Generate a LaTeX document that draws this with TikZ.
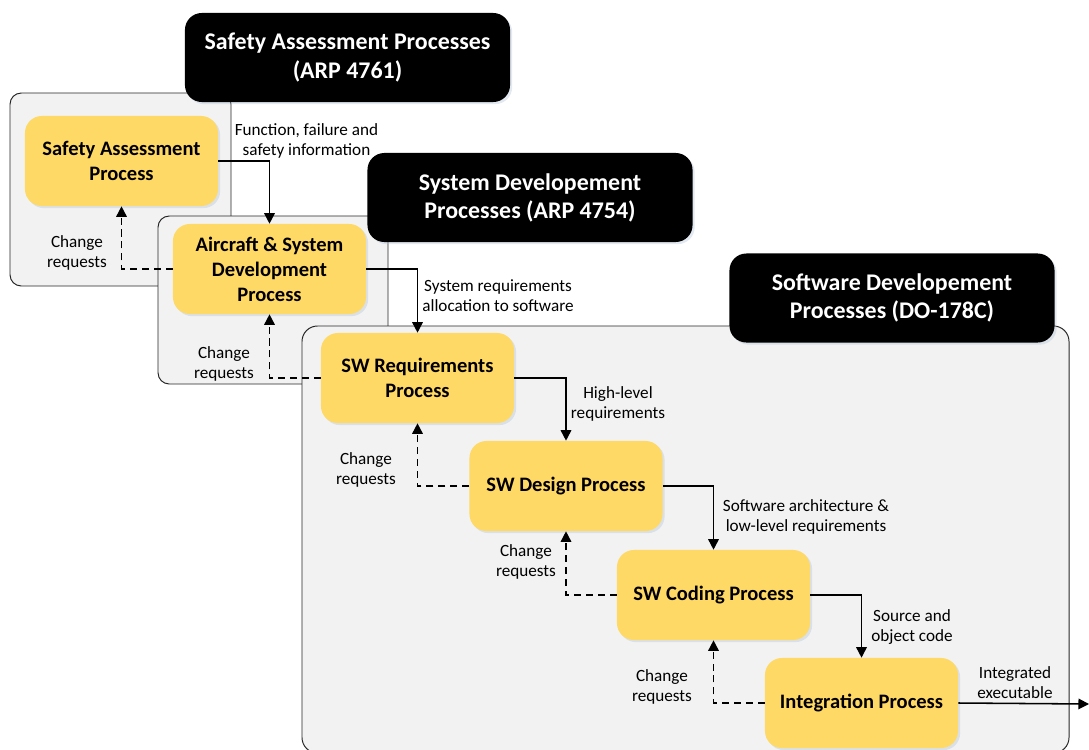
\documentclass[tikz,border=0pt]{standalone}
\usepackage{fontspec}
\setmainfont{Carlito}
\usetikzlibrary{arrows.meta,positioning,shadows}

\definecolor{procyellow}{HTML}{FFD966}
\definecolor{panelgray}{HTML}{F2F2F2}
\definecolor{shadowblue}{HTML}{AFC0D6}

\begin{document}
\begin{tikzpicture}[
    x=0.025cm, y=-0.025cm,
    % Grey process-group panels
    panel/.style={
        draw=black!85, fill=panelgray, line width=0.7pt, rounded corners=8pt
    },
    % Black group headers
    header/.style={
        rectangle, rounded corners=12pt, fill=black, text=white,
        minimum width=8.125cm, minimum height=2.225cm, align=center,
        font=\fontsize{17}{20}\selectfont\bfseries, inner sep=2pt,
        drop shadow={shadow xshift=1.5pt, shadow yshift=-1.5pt, opacity=0.35, fill=shadowblue}
    },
    % Yellow process boxes
    proc/.style={
        rectangle, rounded corners=12pt, fill=procyellow,
        minimum width=4.825cm, minimum height=2.25cm, align=center,
        font=\fontsize{14.6}{17.8}\selectfont\bfseries, inner sep=2pt,
        drop shadow={shadow xshift=1.5pt, shadow yshift=-1.5pt, opacity=0.35, fill=shadowblue}
    },
    % Forward data flow: solid
    flow/.style={
        -{Triangle[length=7.5pt,width=7.5pt]}, line width=1.1pt, black
    },
    % Change requests: dashed
    back/.style={
        -{Triangle[length=7.5pt,width=7.5pt]}, line width=1.1pt, black,
        dash pattern=on 5pt off 3.5pt
    },
    lbl/.style={
        font=\fontsize{12.2}{14.2}\selectfont, align=center, inner sep=0pt
    }
]
\useasboundingbox (0,0) rectangle (1089,749);

% === Panels ===
\draw[panel] (10,93) rectangle (231,286);
\draw[panel] (158,216) rectangle (388,384);
\draw[panel, rounded corners=11pt] (302,326) rectangle (1069,753);

% === Headers ===
\node[header] (H1) at (347.5,57.5) {Safety Assessment Processes\\(ARP 4761)};
\node[header] (H2) at (530,197.5) {System Developement\\Processes (ARP 4754)};
\node[header] (H3) at (892,298) {Software Developement\\Processes (DO-178C)};

% === Processes ===
\node[proc] (SAP) at (121.5,161) {Safety Assessment\\Process};
\node[proc] (ASD) at (269.5,269) {Aircraft \& System\\Development\\Process};
\node[proc] (SWR) at (417.5,378) {SW Requirements\\Process};
\node[proc] (SWD) at (566,486)   {SW Design Process};
\node[proc] (SWC) at (713.5,595) {SW Coding Process};
\node[proc] (INT) at (861.5,703) {Integration Process};

\coordinate (exit) at (1089,704);

% === Forward flows ===
\draw[flow] (SAP.east) -| (ASD.north);
\draw[flow] (ASD.east) -| (SWR.north);
\draw[flow] (SWR.east) -| (SWD.north);
\draw[flow] (SWD.east) -| (SWC.north);
\draw[flow] (SWC.east) -| (INT.north);
\draw[flow] (INT.east) -- (exit);

% === Change requests ===
\draw[back] (ASD.west) -| (SAP.south);
\draw[back] (SWR.west) -| (ASD.south);
\draw[back] (SWD.west) -| (SWR.south);
\draw[back] (SWC.west) -| (SWD.south);
\draw[back] (INT.west) -| (SWC.south);

% === Labels ===
\node[lbl] (lFun) at (306.5,141) {Function, failure and\\safety information};
\node[lbl] (lSys) at (498,296)   {System requirements\\allocation to software};
\node[lbl] (lHLR) at (618,404)   {High-level\\requirements};
\node[lbl] (lLLR) at (806,517)   {Software architecture \&\\low-level requirements};
\node[lbl] (lSrc) at (912,627)   {Source and\\object code};
\node[lbl] (lExe) at (1015,683)  {Integrated\\executable};

\node[lbl] (cr1) at (77,253)  {Change\\requests};
\node[lbl] (cr2) at (224,364) {Change\\requests};
\node[lbl] (cr3) at (366,470) {Change\\requests};
\node[lbl] (cr4) at (526,562) {Change\\requests};
\node[lbl] (cr5) at (662,687) {Change\\requests};

\end{tikzpicture}
\end{document}
